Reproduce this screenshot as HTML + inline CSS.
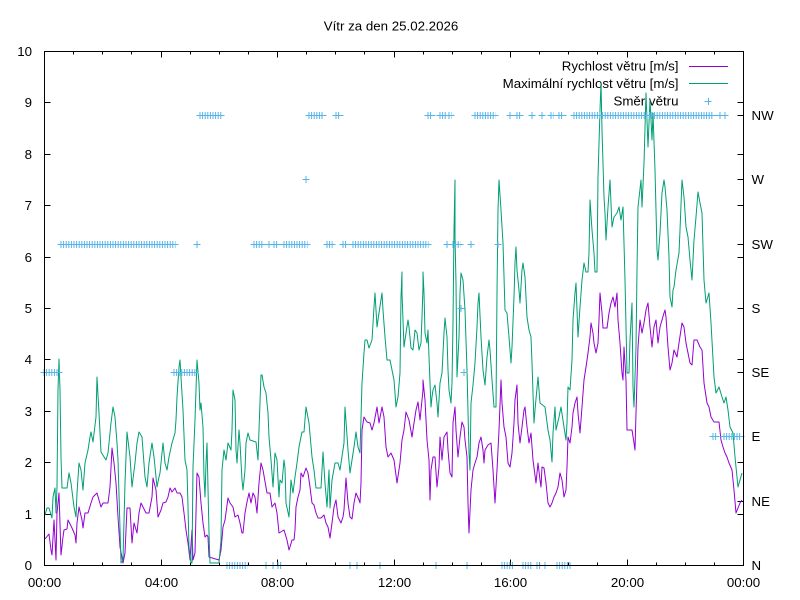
<!DOCTYPE html>
<html>
<head>
<meta charset="utf-8">
<style>
html,body{margin:0;padding:0;background:#fff;}
svg{display:block;}
text{font-family:"Liberation Sans",Arial,sans-serif;font-size:13.3px;fill:#000;}
</style>
</head>
<body>
<svg width="800" height="600" viewBox="0 0 800 600" xmlns="http://www.w3.org/2000/svg">
<rect x="0" y="0" width="800" height="600" fill="#fff"/>

<!-- title -->
<text x="391" y="30.5" text-anchor="middle">Vítr za den 25.02.2026</text>

<!-- ticks -->
<path fill="none" stroke="#000" stroke-width="1" d="
M44.5 514.5H50.5 M44.5 462.5H50.5 M44.5 411.5H50.5 M44.5 359.5H50.5 M44.5 308.5H50.5 M44.5 257.5H50.5 M44.5 205.5H50.5 M44.5 154.5H50.5 M44.5 102.5H50.5
M743.5 514.5H737.5 M743.5 462.5H737.5 M743.5 411.5H737.5 M743.5 359.5H737.5 M743.5 308.5H737.5 M743.5 257.5H737.5 M743.5 205.5H737.5 M743.5 154.5H737.5 M743.5 102.5H737.5
M743.5 501.5H737.5 M743.5 436.5H737.5 M743.5 372.5H737.5 M743.5 244.5H737.5 M743.5 179.5H737.5 M743.5 115.5H737.5
M73.5 565.5V562.5 M102.5 565.5V562.5 M131.5 565.5V562.5 M161.5 565.5V559.5 M190.5 565.5V562.5 M219.5 565.5V562.5 M248.5 565.5V562.5 M277.5 565.5V559.5 M306.5 565.5V562.5 M335.5 565.5V562.5 M364.5 565.5V562.5 M394.5 565.5V559.5 M423.5 565.5V562.5 M452.5 565.5V562.5 M481.5 565.5V562.5 M510.5 565.5V559.5 M539.5 565.5V562.5 M568.5 565.5V562.5 M597.5 565.5V562.5 M627.5 565.5V559.5 M656.5 565.5V562.5 M685.5 565.5V562.5 M714.5 565.5V562.5
M73.5 51.5V54.5 M102.5 51.5V54.5 M131.5 51.5V54.5 M161.5 51.5V57.5 M190.5 51.5V54.5 M219.5 51.5V54.5 M248.5 51.5V54.5 M277.5 51.5V57.5 M306.5 51.5V54.5 M335.5 51.5V54.5 M364.5 51.5V54.5 M394.5 51.5V57.5 M423.5 51.5V54.5 M452.5 51.5V54.5 M481.5 51.5V54.5 M510.5 51.5V57.5 M539.5 51.5V54.5 M568.5 51.5V54.5 M597.5 51.5V54.5 M627.5 51.5V57.5 M656.5 51.5V54.5 M685.5 51.5V54.5 M714.5 51.5V54.5
"/>

<!-- y labels -->
<g text-anchor="end">
<text x="32" y="570">0</text>
<text x="32" y="519">1</text>
<text x="32" y="467">2</text>
<text x="32" y="416">3</text>
<text x="32" y="364">4</text>
<text x="32" y="313">5</text>
<text x="32" y="262">6</text>
<text x="32" y="210">7</text>
<text x="32" y="159">8</text>
<text x="32" y="107">9</text>
<text x="32" y="56">10</text>
</g>
<!-- y2 labels -->
<g>
<text x="751.5" y="570">N</text>
<text x="751.5" y="506">NE</text>
<text x="751.5" y="441">E</text>
<text x="751.5" y="377">SE</text>
<text x="751.5" y="313">S</text>
<text x="751.5" y="249">SW</text>
<text x="751.5" y="184">W</text>
<text x="751.5" y="120">NW</text>
</g>
<!-- x labels -->
<g text-anchor="middle">
<text x="44.5" y="587">00:00</text>
<text x="161.5" y="587">04:00</text>
<text x="277.5" y="587">08:00</text>
<text x="394.5" y="587">12:00</text>
<text x="510.5" y="587">16:00</text>
<text x="627.5" y="587">20:00</text>
<text x="743.5" y="587">00:00</text>
</g>

<!-- legend -->
<g text-anchor="end">
<text x="678.5" y="70.5">Rychlost větru [m/s]</text>
<text x="678.5" y="88">Maximální rychlost větru [m/s]</text>
<text x="678.5" y="105.5">Směr větru</text>
</g>
<line x1="689" y1="66.5" x2="728" y2="66.5" stroke="#9400D3" stroke-width="1"/>
<line x1="689" y1="83.5" x2="728" y2="83.5" stroke="#009E73" stroke-width="1"/>
<path d="M704.5 101.5H711.5 M708.5 98V105" stroke="#56B4E9" stroke-width="1" fill="none"/>

<!-- purple: Rychlost -->
<polyline fill="none" stroke="#9400D3" stroke-width="1" stroke-linejoin="round" points="45,539 49,534 51,550 52,555 54,520 56,560 57,513 59,493 61,555 63,537 64,530 67,529 68,520 72,528 75,535 76,543 77,523 79,507 82,520 83,528 85,513 88,513 91,503 93,497 97,493 101,507 103,503 108,503 110,487 112,448 114,463 116,483 118,517 120,547 123,563 125,553 127,508 130,508 132,543 134,523 137,533 139,513 141,503 146,513 149,513 152,497 153,478 156,490 158,517 161,510 163,503 166,502 168,497 170,488 172,492 175,488 177,493 180,493 182,497 184,513 186,530 188,543 190,560 192,530 193,560 195,553 196,513 197,473 199,477 201,503 203,523 205,537 207,535 208,537 209,557 219,560 221,550 223,527 225,520 228,498 230,503 233,507 235,517 238,515 240,523 242,533 243,533 245,513 247,502 249,493 251,503 253,493 255,497 257,513 259,483 261,463 263,470 267,493 270,493 272,507 275,503 277,513 279,533 284,530 287,540 289,550 290,547 292,540 294,540 295,530 296,507 298,497 300,490 301,473 303,477 306,468 308,473 310,487 312,503 314,505 316,513 318,518 321,518 324,515 326,523 328,527 330,538 332,523 334,507 336,500 338,517 341,523 343,517 344,510 346,478 348,503 350,517 352,519 354,503 356,493 359,500 360,503 361,483 362,430 364,417 367,422 370,423 372,430 374,423 377,407 379,423 382,407 384,417 386,447 388,457 391,453 394,460 397,483 400,463 402,440 404,430 406,412 409,420 412,437 414,423 416,410 418,402 420,420 421,410 423,390 423,380 425,400 427,440 429,460 430,500 431,470 433,457 435,457 437,487 439,467 440,437 442,460 444,437 447,432 448,450 450,473 452,477 453,423 455,407 456,430 458,457 460,437 462,422 464,427 465,440 467,457 468,503 469,533 471,490 473,470 475,463 477,457 479,443 481,437 483,450 484,463 485,450 488,445 491,443 493,470 495,503 497,470 499,430 501,380 502,403 504,427 506,437 508,463 510,467 512,453 514,423 515,400 517,385 518,423 520,443 522,427 524,410 525,407 527,427 529,443 531,433 533,460 536,483 538,463 540,480 541,487 542,467 544,468 546,483 548,503 550,507 552,503 554,497 556,493 558,487 560,473 562,480 564,497 566,490 567,467 568,437 570,443 572,427 573,413 575,403 577,397 578,413 580,433 582,407 584,380 586,367 588,353 590,337 591,323 593,333 594,343 596,353 598,343 599,320 600,293 602,313 603,328 607,328 609,313 611,303 613,297 615,307 617,293 618,320 620,343 622,373 623,380 624,347 626,380 627,430 632,430 634,443 635,450 636,413 638,347 640,320 642,333 644,323 646,310 648,303 650,327 652,347 654,327 656,320 658,343 660,327 662,320 664,313 665,310 666,317 668,347 670,370 672,363 674,350 677,357 679,343 682,323 684,327 686,343 690,363 692,365 694,340 697,340 700,347 702,350 704,383 707,403 709,407 711,417 714,422 719,422 721,440 723,447 725,453 727,457 729,463 732,470 734,490 736,513 738,508 740,503 742,500"/>

<!-- green: Maximální -->
<polyline fill="none" stroke="#009E73" stroke-width="1" stroke-linejoin="round" points="45,515 47,508 49,508 52,518 53,497 55,488 56,513 57,487 58,390 59,359 60,390 61,457 62,488 67,488 69,473 71,483 74,507 76,517 77,493 79,463 81,470 83,490 85,463 88,450 90,437 91,432 93,442 96,417 97,377 99,413 101,452 106,460 108,453 111,423 113,407 115,417 117,443 118,460 121,563 123,560 125,483 127,432 130,457 132,487 135,463 137,443 139,432 142,437 145,477 147,487 149,463 152,443 154,457 157,487 159,477 160,473 162,453 163,443 165,463 167,470 169,457 172,443 175,433 176,420 177,397 179,367 180,360 181,377 183,410 185,460 187,470 188,507 189,547 191,563 192,563 193,467 195,420 197,360 199,383 200,410 201,403 203,427 204,477 205,497 206,463 207,443 209,533 210,563 219,563 221,540 222,470 224,450 226,460 228,443 231,450 232,430 233,390 235,400 236,450 237,463 239,430 240,443 242,480 243,490 245,470 246,443 248,433 250,440 256,442 258,460 259,430 261,375 262,375 264,387 266,393 268,413 269,437 271,460 273,487 275,453 277,460 279,497 280,480 282,483 284,460 285,468 286,503 289,517 291,480 293,493 295,477 297,463 299,447 302,432 304,432 306,407 309,423 312,457 314,470 316,488 321,488 323,452 325,483 327,507 329,470 330,508 332,480 335,463 338,463 340,470 344,443 345,407 348,450 350,473 354,447 356,432 358,447 360,453 362,383 364,353 365,340 367,340 369,348 372,340 374,307 375,293 377,327 379,313 382,293 383,310 385,337 387,360 390,360 392,370 394,380 395,393 396,407 398,397 400,373 401,297 402,272 402,293 404,347 406,333 408,320 409,327 411,348 413,350 415,330 417,333 419,350 421,343 422,317 423,287 423,272 424,293 425,333 427,343 428,330 429,357 431,407 432,397 433,390 435,385 437,403 438,417 440,383 442,373 444,333 445,318 447,337 448,370 449,390 451,403 452,383 453,323 454,230 455,180 455,237 456,283 457,377 459,337 460,293 461,273 463,280 465,310 467,370 469,453 470,470 471,403 473,385 475,363 477,327 478,303 479,293 481,337 483,370 485,385 487,357 489,340 490,350 492,380 494,407 496,407 497,293 498,210 499,180 501,210 503,243 505,310 507,313 509,337 511,363 512,347 514,297 515,263 516,247 517,270 519,290 520,303 522,270 523,263 525,277 527,317 529,330 531,337 532,363 534,423 535,410 538,377 540,403 545,407 548,430 550,440 552,462 553,433 555,407 556,430 559,417 561,407 564,427 566,440 567,423 568,387 570,390 572,360 573,320 575,293 576,283 578,337 580,307 582,280 584,263 586,272 588,272 589,253 590,200 592,230 594,253 595,272 597,272 598,177 600,110 601,83 602,130 604,197 605,213 606,240 608,207 610,180 612,227 614,217 617,213 619,207 621,220 623,207 625,280 627,373 629,373 630,340 632,303 633,387 634,407 636,347 637,270 638,207 641,180 642,207 644,163 646,93 648,147 650,100 652,140 653,113 655,170 657,250 658,260 660,233 662,193 664,180 665,187 667,210 669,257 670,297 672,307 673,290 674,287 676,270 679,253 680,230 682,180 684,197 686,227 688,237 690,260 692,280 694,240 696,217 698,192 700,203 702,213 704,280 706,303 709,293 711,323 714,377 716,393 719,387 722,397 724,403 726,397 728,410 730,427 733,433 735,457 738,487 740,480 742,473"/>

<!-- direction markers: vertical bars -->
<g stroke="#56B4E9" stroke-width="7" stroke-dasharray="1 1.6" fill="none">
<!-- SE -->
<line x1="43.5" y1="372.5" x2="59.5" y2="372.5"/>
<line x1="173.5" y1="372.5" x2="195.5" y2="372.5"/>
<line x1="463.5" y1="372.5" x2="464.5" y2="372.5"/>
<!-- SW -->
<line x1="60.5" y1="244.5" x2="175.5" y2="244.5"/>
<line x1="196.5" y1="244.5" x2="197.5" y2="244.5"/>
<line x1="253.5" y1="244.5" x2="262.5" y2="244.5"/>
<line x1="268.5" y1="244.5" x2="269.5" y2="244.5"/>
<line x1="273.5" y1="244.5" x2="277.5" y2="244.5"/>
<line x1="283.5" y1="244.5" x2="307.5" y2="244.5"/>
<line x1="326.5" y1="244.5" x2="332.5" y2="244.5"/>
<line x1="342.5" y1="244.5" x2="347.5" y2="244.5"/>
<line x1="352.5" y1="244.5" x2="428.5" y2="244.5"/>
<line x1="446.5" y1="244.5" x2="447.5" y2="244.5"/>
<line x1="452.5" y1="244.5" x2="460.5" y2="244.5"/>
<line x1="470.5" y1="244.5" x2="471.5" y2="244.5"/>
<line x1="497.5" y1="244.5" x2="498.5" y2="244.5"/>
<!-- S, W -->
<line x1="460.5" y1="308.5" x2="461.5" y2="308.5"/>
<line x1="305.5" y1="179.5" x2="306.5" y2="179.5"/>
<!-- NW -->
<line x1="199.5" y1="115.5" x2="221.5" y2="115.5"/>
<line x1="308.5" y1="115.5" x2="323.5" y2="115.5"/>
<line x1="335.5" y1="115.5" x2="340.5" y2="115.5"/>
<line x1="427.5" y1="115.5" x2="432.5" y2="115.5"/>
<line x1="439.5" y1="115.5" x2="446.5" y2="115.5"/>
<line x1="448.5" y1="115.5" x2="451.5" y2="115.5"/>
<line x1="474.5" y1="115.5" x2="495.5" y2="115.5"/>
<line x1="509.5" y1="115.5" x2="510.5" y2="115.5"/>
<line x1="516.5" y1="115.5" x2="520.5" y2="115.5"/>
<line x1="531.5" y1="115.5" x2="532.5" y2="115.5"/>
<line x1="541.5" y1="115.5" x2="542.5" y2="115.5"/>
<line x1="550.5" y1="115.5" x2="553.5" y2="115.5"/>
<line x1="558.5" y1="115.5" x2="563.5" y2="115.5"/>
<line x1="573.5" y1="115.5" x2="713.5" y2="115.5"/>
<line x1="719.5" y1="115.5" x2="720.5" y2="115.5"/>
<line x1="724.5" y1="115.5" x2="725.5" y2="115.5"/>
<!-- E -->
<line x1="712.5" y1="436.5" x2="716.5" y2="436.5"/>
<line x1="723.5" y1="436.5" x2="741.5" y2="436.5"/>
<!-- N -->
<line x1="226.5" y1="565.5" x2="247.5" y2="565.5"/>
<line x1="265.5" y1="565.5" x2="266.5" y2="565.5"/>
<line x1="272.5" y1="565.5" x2="273.5" y2="565.5"/>
<line x1="277.5" y1="565.5" x2="282.5" y2="565.5"/>
<line x1="349.5" y1="565.5" x2="350.5" y2="565.5"/>
<line x1="356.5" y1="565.5" x2="357.5" y2="565.5"/>
<line x1="379.5" y1="565.5" x2="380.5" y2="565.5"/>
<line x1="435.5" y1="565.5" x2="436.5" y2="565.5"/>
<line x1="466.5" y1="565.5" x2="467.5" y2="565.5"/>
<line x1="501.5" y1="565.5" x2="513.5" y2="565.5"/>
<line x1="522.5" y1="565.5" x2="531.5" y2="565.5"/>
<line x1="536.5" y1="565.5" x2="540.5" y2="565.5"/>
<line x1="544.5" y1="565.5" x2="545.5" y2="565.5"/>
<line x1="556.5" y1="565.5" x2="570.5" y2="565.5"/>
</g>
<!-- direction markers: horizontal arms -->
<path stroke="#56B4E9" stroke-width="1" fill="none" d="
M40.5 372.5H62.5 M170.5 372.5H198.5 M460.5 372.5H467.5
M57.5 244.5H178.5 M193.5 244.5H200.5 M250.5 244.5H265.5 M265.5 244.5H272.5 M270.5 244.5H280.5 M280.5 244.5H310.5 M323.5 244.5H335.5 M339.5 244.5H350.5 M349.5 244.5H431.5 M443.5 244.5H450.5 M449.5 244.5H463.5 M467.5 244.5H474.5 M494.5 244.5H501.5
M457.5 308.5H464.5 M302.5 179.5H309.5
M196.5 115.5H224.5 M305.5 115.5H326.5 M332.5 115.5H343.5 M424.5 115.5H435.5 M436.5 115.5H449.5 M445.5 115.5H454.5 M471.5 115.5H498.5 M506.5 115.5H513.5 M513.5 115.5H523.5 M528.5 115.5H535.5 M538.5 115.5H545.5 M547.5 115.5H556.5 M555.5 115.5H566.5 M570.5 115.5H716.5 M716.5 115.5H723.5 M721.5 115.5H728.5
M709.5 436.5H719.5 M720.5 436.5H744.5
M223.5 565.5H250.5 M262.5 565.5H269.5 M269.5 565.5H276.5 M274.5 565.5H285.5 M346.5 565.5H353.5 M353.5 565.5H360.5 M376.5 565.5H383.5 M432.5 565.5H439.5 M463.5 565.5H470.5 M498.5 565.5H516.5 M519.5 565.5H534.5 M533.5 565.5H543.5 M541.5 565.5H548.5 M553.5 565.5H573.5
"/>

<!-- border -->
<rect x="44.5" y="51.5" width="699" height="514" fill="none" stroke="#000" stroke-width="1"/>
</svg>
</body>
</html>
